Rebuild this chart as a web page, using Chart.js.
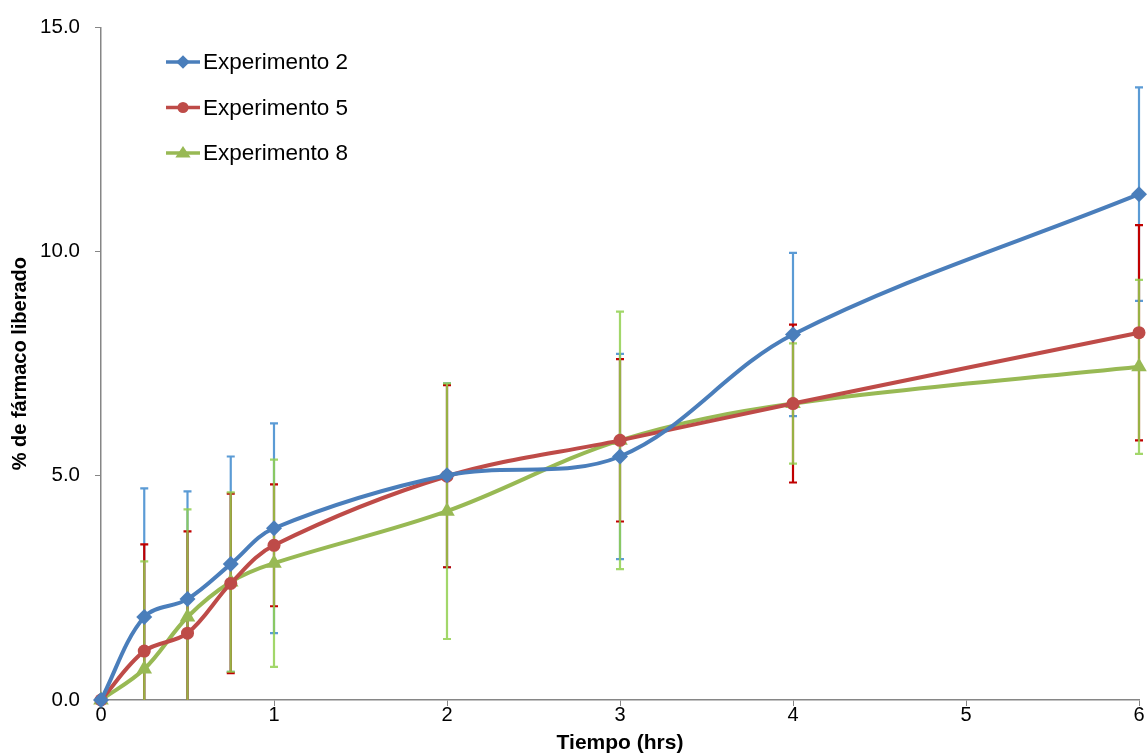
<!DOCTYPE html>
<html>
<head>
<meta charset="utf-8">
<script src="https://cdn.jsdelivr.net/npm/chart.js@4/dist/chart.umd.min.js"></script>
<style>
  html, body { margin: 0; padding: 0; background: #fff; }
  canvas { display: block; }
</style>
</head>
<body>
<canvas id="chart" width="1148" height="756"></canvas>
<script>
const times = [0, 0.25, 0.5, 0.75, 1, 2, 3, 4, 6];

const exp2 = [0, 1.85, 2.25, 3.03, 3.83, 5.01, 5.43, 8.15, 11.28];
const exp5 = [0, 1.09, 1.49, 2.60, 3.45, 4.99, 5.79, 6.61, 8.19];
const exp8 = [0, 0.69, 1.85, 2.63, 3.05, 4.21, 5.79, 6.61, 7.43];

const err2 = [0, 2.87, 2.40, 2.40, 2.34, 2.05, 2.29, 1.82, 2.38];
const err5 = [0, 2.38, 2.27, 2.00, 1.36, 2.03, 1.81, 1.76, 2.40];
const err8 = [0, 2.40, 2.40, 2.00, 2.31, 2.85, 2.87, 1.34, 1.94];

const seriesNames = ["Experimento 2", "Experimento 5", "Experimento 8"];
const yTicks = [0, 5, 10, 15];

const FONT = "'Liberation Sans', Arial, Helvetica, sans-serif";

function toPoints(vals) {
  return times.map((t, i) => ({ x: t, y: vals[i] }));
}

const series = [
  { name: seriesNames[0], data: exp2, err: err2, color: "#4A7EBB", barColor: "#5B9BD5", style: "rectRot", r: 8 },
  { name: seriesNames[1], data: exp5, err: err5, color: "#BE4B48", barColor: "#C00000", style: "circle", r: 6.5 },
  { name: seriesNames[2], data: exp8, err: err8, color: "#98B954", barColor: "rgba(146,208,80,0.85)", style: "triangle", r: 9 }
];

// error bars, drawn under the lines
const errorBars = {
  id: "errorBars",
  beforeDatasetsDraw(chart) {
    const { ctx, chartArea, scales: { x, y } } = chart;
    ctx.save();
    ctx.beginPath();
    ctx.rect(chartArea.left, chartArea.top - 20, chartArea.right - chartArea.left + 10, chartArea.bottom - chartArea.top + 20);
    ctx.clip();
    series.forEach(s => {
      ctx.strokeStyle = s.barColor;
      ctx.lineWidth = 2.2;
      times.forEach((t, i) => {
        if (!s.err[i]) return;
        const px = x.getPixelForValue(t);
        const top = y.getPixelForValue(s.data[i] + s.err[i]);
        const bot = y.getPixelForValue(s.data[i] - s.err[i]);
        ctx.beginPath();
        ctx.moveTo(px, top);
        ctx.lineTo(px, bot);
        ctx.moveTo(px - 4, top);
        ctx.lineTo(px + 4, top);
        ctx.moveTo(px - 4, bot);
        ctx.lineTo(px + 4, bot);
        ctx.stroke();
      });
    });
    ctx.restore();
  }
};

function drawMarker(ctx, style, r, cx, cy) {
  ctx.beginPath();
  if (style === "circle") {
    ctx.arc(cx, cy, r, 0, Math.PI * 2);
  } else if (style === "rectRot") {
    ctx.moveTo(cx, cy - r);
    ctx.lineTo(cx + r, cy);
    ctx.lineTo(cx, cy + r);
    ctx.lineTo(cx - r, cy);
    ctx.closePath();
  } else {
    const h = r * 1.5;
    ctx.moveTo(cx, cy - h * 0.6);
    ctx.lineTo(cx + r, cy + h * 0.4);
    ctx.lineTo(cx - r, cy + h * 0.4);
    ctx.closePath();
  }
  ctx.fill();
}

// legend inside the plot, top-left
const insideLegend = {
  id: "insideLegend",
  afterDraw(chart) {
    const ctx = chart.ctx;
    ctx.save();
    ctx.font = "22.5px " + FONT;
    ctx.textBaseline = "middle";
    ctx.textAlign = "left";
    series.forEach((s, i) => {
      const ly = 62 + i * 45.5;
      ctx.strokeStyle = s.color;
      ctx.lineWidth = 3.5;
      ctx.beginPath();
      ctx.moveTo(166, ly);
      ctx.lineTo(200, ly);
      ctx.stroke();
      ctx.fillStyle = s.color;
      drawMarker(ctx, s.style, s.r * 0.85, 183, ly);
      ctx.fillStyle = "#000";
      ctx.fillText(s.name, 203, ly + 1);
    });
    ctx.restore();
  }
};

new Chart(document.getElementById("chart"), {
  type: "line",
  data: {
    datasets: series.map(s => ({
      label: s.name,
      data: toPoints(s.data),
      borderColor: s.color,
      backgroundColor: s.color,
      borderWidth: 4,
      pointStyle: s.style,
      pointRadius: s.r,
      pointBorderWidth: 0,
      tension: 0.35,
      clip: false
    }))
  },
  options: {
    responsive: false,
    animation: false,
    layout: { padding: { top: 26, right: 8, left: 8, bottom: 0 } },
    plugins: {
      legend: { display: false },
      tooltip: { enabled: false }
    },
    scales: {
      x: {
        type: "linear",
        min: 0,
        max: 6,
        ticks: { stepSize: 1, color: "#000", font: { family: FONT, size: 20 }, padding: -3, maxRotation: 0 },
        grid: { drawOnChartArea: false, drawTicks: true, tickLength: 6, color: "#868686" },
        border: { color: "#868686", width: 1.5 },
        title: { display: true, text: "Tiempo (hrs)", color: "#000", font: { family: FONT, size: 21, weight: "bold" }, padding: { top: 0, bottom: 0 } },
        afterFit(scale) { scale.height = 56; }
      },
      y: {
        min: 0,
        max: 15,
        afterBuildTicks(scale) { scale.ticks = yTicks.map(v => ({ value: v })); },
        ticks: { color: "#000", font: { family: FONT, size: 20.5 }, padding: 15, callback: v => Number(v).toFixed(1) },
        grid: { drawOnChartArea: false, drawTicks: true, tickLength: 6, color: "#868686" },
        border: { color: "#868686", width: 1.5 },
        title: { display: true, text: "% de fármaco liberado", color: "#000", font: { family: FONT, size: 20, weight: "bold" }, padding: 0 },
        afterFit(scale) { scale.width = 93; }
      }
    }
  },
  plugins: [errorBars, insideLegend]
});
</script>
</body>
</html>
